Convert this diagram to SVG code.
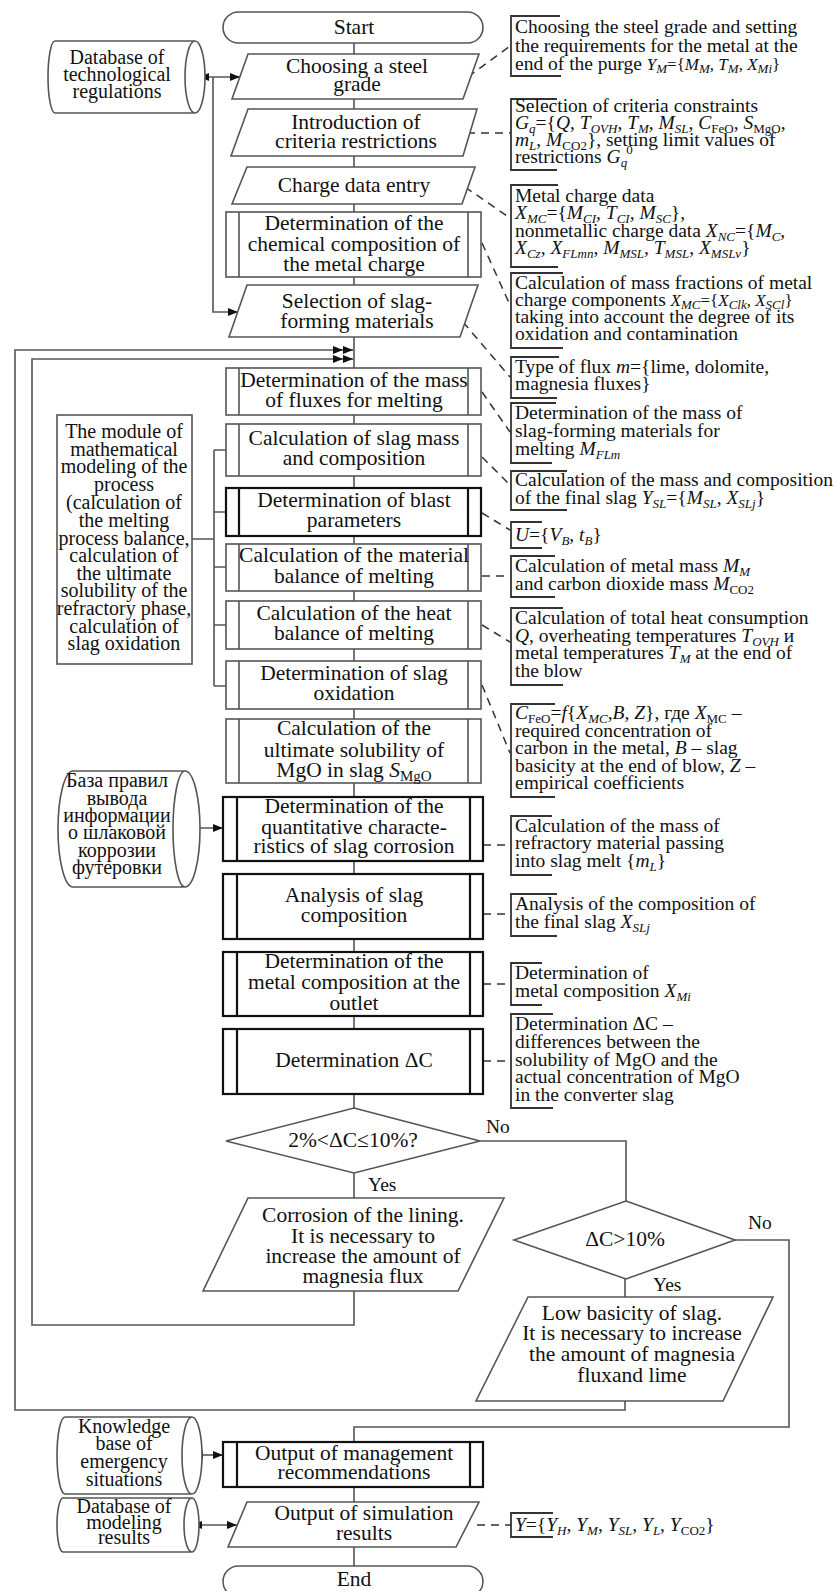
<svg xmlns="http://www.w3.org/2000/svg" width="837" height="1591" viewBox="0 0 837 1591">
<style>
.box{fill:#fff;stroke:#555;stroke-width:1.6}
.bold{fill:#fff;stroke:#111;stroke-width:2.2}
.ln{fill:none;stroke:#555;stroke-width:1.6}
.dash{fill:none;stroke:#333;stroke-width:1.5;stroke-dasharray:8 6}
.br{fill:none;stroke:#333;stroke-width:1.8}
.t{font-family:"Liberation Serif","Times New Roman",serif;font-size:21.5px;text-anchor:middle;fill:#111}
.c{font-family:"Liberation Serif","Times New Roman",serif;font-size:20px;text-anchor:middle;fill:#111}
.a{font-family:"Liberation Serif","Times New Roman",serif;font-size:19.5px;fill:#111}
.l{font-family:"Liberation Serif","Times New Roman",serif;font-size:19.5px;fill:#111}
.s{font-size:13px}
.i{font-style:italic}
</style>
<defs>
<marker id="ar" viewBox="0 0 10 8" refX="10" refY="4" markerWidth="10" markerHeight="8" orient="auto-start-reverse" markerUnits="userSpaceOnUse"><path d="M0,0 L10,4 L0,8 z" fill="#111"/></marker>
</defs>

<g id="connectors">
<path class="ln" d="M354,43V54 M354,99V109 M354,156V167 M354,204V212 M354,277V285 M354,337V368 M354,415V424 M354,476V488 M354,536V544 M354,591V601 M354,649V661 M354,709V719 M354,783V797 M354,861V874 M354,939V952 M354,1016V1029 M354,1094V1108 M354,1173V1198 M354,1487V1502 M354,1547V1566 M625,1279V1297"/>
<path class="ln" d="M480,1141H626V1201"/>
<path class="ln" d="M735,1240H789V1427H354V1442"/>
<path class="ln" d="M354,1291V1325H32V359H343" marker-end="url(#ar)"/>
<path class="ln" d="M625,1401V1410H15V350H343" marker-end="url(#ar)"/>
<line class="ln" x1="343" y1="359" x2="353" y2="359" marker-end="url(#ar)"/>
<line class="ln" x1="343" y1="350" x2="353" y2="350" marker-end="url(#ar)"/>
<line class="ln" x1="199" y1="77" x2="240" y2="77" stroke="#111" marker-start="url(#ar)" marker-end="url(#ar)"/>
<path class="ln" d="M213,77V312H238" stroke="#111" marker-end="url(#ar)"/>
<line class="ln" x1="188" y1="828" x2="223" y2="828" stroke="#111" marker-start="url(#ar)" marker-end="url(#ar)"/>
<line class="ln" x1="193" y1="1455" x2="223" y2="1455" stroke="#111" marker-start="url(#ar)" marker-end="url(#ar)"/>
<line class="ln" x1="192" y1="1525" x2="237" y2="1525" stroke="#111" marker-start="url(#ar)" marker-end="url(#ar)"/>
<path class="ln" d="M192,539H214 M214,450V686 M214,450H226 M214,512H226 M214,567H226 M214,625H226 M214,686H226"/>
<path class="dash" d="M468,77L510,46 M467,133H511 M465,187L510,218 M482,243L510,305 M463,322L510,377 M482,392L510,432 M482,457L510,485 M482,513L510,530 M482,576H511 M482,625L510,642 M482,685L510,753 M483,845H511 M483,914H511 M483,984H511 M483,1061H511 M477,1525H511"/>
</g>

<g id="start"><rect class="box" x="223" y="12" width="260" height="31" rx="15.5"/><text class="t" x="354" y="34">Start</text></g>
<g id="steel"><polygon class="box" points="248,54 479,54 463,99 232,99"/><text class="t" x="357" y="73">Choosing a steel</text><text class="t" x="357" y="91">grade</text></g>
<g id="criteria"><polygon class="box" points="248,109 477,109 463,156 231,156"/><text class="t" x="356" y="129">Introduction of</text><text class="t" x="356" y="148">criteria restrictions</text></g>
<g id="charge"><polygon class="box" points="247,167 475,167 462,204 232,204"/><text class="t" x="354" y="192">Charge data entry</text></g>
<g id="chem"><rect class="box" x="226" y="212" width="255" height="65"/><path class="box" d="M239,212V277 M468,212V277"/><text class="t" x="354" y="230">Determination of the</text><text class="t" x="354" y="251">chemical composition of</text><text class="t" x="354" y="271">the metal charge</text></g>
<g id="selection"><polygon class="box" points="247,285 478,285 460,337 229,337"/><text class="t" x="357" y="308">Selection of slag-</text><text class="t" x="357" y="328">forming materials</text></g>
<g id="fluxes"><rect class="box" x="226" y="368" width="255" height="47"/><path class="box" d="M239,368V415 M468,368V415"/><text class="t" x="354" y="387">Determination of the mass</text><text class="t" x="354" y="407">of fluxes for melting</text></g>
<g id="slagmass"><rect class="box" x="226" y="424" width="255" height="52"/><path class="box" d="M239,424V476 M468,424V476"/><text class="t" x="354" y="445">Calculation of slag mass</text><text class="t" x="354" y="465">and composition</text></g>
<g id="blast"><rect class="bold" x="226" y="488" width="255" height="48"/><path class="bold" d="M239,488V536 M468,488V536"/><text class="t" x="354" y="507">Determination of blast</text><text class="t" x="354" y="527">parameters</text></g>
<g id="material"><rect class="box" x="226" y="544" width="255" height="47"/><path class="box" d="M239,544V591 M468,544V591"/><text class="t" x="354" y="562">Calculation of the material</text><text class="t" x="354" y="583">balance of melting</text></g>
<g id="heat"><rect class="box" x="226" y="601" width="255" height="48"/><path class="box" d="M239,601V649 M468,601V649"/><text class="t" x="354" y="620">Calculation of the heat</text><text class="t" x="354" y="640">balance of melting</text></g>
<g id="oxidation"><rect class="box" x="226" y="661" width="255" height="48"/><path class="box" d="M239,661V709 M468,661V709"/><text class="t" x="354" y="680">Determination of slag</text><text class="t" x="354" y="700">oxidation</text></g>
<g id="mgo"><rect class="box" x="226" y="719" width="255" height="64"/><path class="box" d="M239,719V783 M468,719V783"/><text class="t" x="354" y="735">Calculation of the</text><text class="t" x="354" y="757">ultimate solubility of</text><text class="t" x="354" y="777">MgO in slag <tspan class="i">S</tspan><tspan font-size="15" dy="4">MgO</tspan></text></g>
<g id="quant"><rect class="bold" x="223" y="797" width="260" height="64"/><path class="bold" d="M237,797V861 M470,797V861"/><text class="t" x="354" y="813">Determination of the</text><text class="t" x="354" y="834">quantitative characte-</text><text class="t" x="354" y="853">ristics of slag corrosion</text></g>
<g id="analysis"><rect class="bold" x="223" y="874" width="260" height="65"/><path class="bold" d="M237,874V939 M470,874V939"/><text class="t" x="354" y="902">Analysis of slag</text><text class="t" x="354" y="922">composition</text></g>
<g id="metalcomp"><rect class="bold" x="223" y="952" width="260" height="64"/><path class="bold" d="M237,952V1016 M470,952V1016"/><text class="t" x="354" y="968">Determination of the</text><text class="t" x="354" y="989">metal composition at the</text><text class="t" x="354" y="1010">outlet</text></g>
<g id="deltac"><rect class="bold" x="223" y="1029" width="260" height="65"/><path class="bold" d="M237,1029V1094 M470,1029V1094"/><text class="t" x="354" y="1067">Determination ΔC</text></g>
<g id="dec1"><polygon class="box" stroke="#222" points="354,1108 480,1141 354,1173 226,1141"/><text class="t" font-size="19.5" x="353" y="1147">2%&lt;ΔC≤10%?</text></g>
<g id="corrosion"><polygon class="box" stroke="#222" points="248,1198 504,1198 458,1291 203,1291"/><text class="t" x="363" y="1222">Corrosion of the lining.</text><text class="t" x="363" y="1243">It is necessary to</text><text class="t" x="363" y="1263">increase the amount of</text><text class="t" x="363" y="1283">magnesia flux</text></g>
<g id="dec2"><polygon class="box" stroke="#222" points="626,1201 735,1240 626,1279 514,1240"/><text class="t" font-size="19.5" x="625" y="1246">ΔC&gt;10%</text></g>
<g id="lowbas"><polygon class="box" stroke="#222" points="528,1297 773,1297 723,1401 476,1401"/><text class="t" x="632" y="1320">Low basicity of slag.</text><text class="t" x="632" y="1340">It is necessary to increase</text><text class="t" x="632" y="1361">the amount of magnesia</text><text class="t" x="632" y="1382">fluxand lime</text></g>
<g id="mgmt"><rect class="bold" x="223" y="1442" width="260" height="45"/><path class="bold" d="M237,1442V1487 M470,1442V1487"/><text class="t" x="354" y="1460">Output of management</text><text class="t" x="354" y="1479">recommendations</text></g>
<g id="simout"><polygon class="box" stroke="#222" points="247,1502 479,1502 456,1547 228,1547"/><text class="t" x="364" y="1520">Output of simulation</text><text class="t" x="364" y="1540">results</text></g>
<g id="end"><rect class="box" x="223" y="1566" width="260" height="31" rx="15.5"/><text class="t" x="354" y="1586">End</text></g>

<g id="labels">
<text class="l" x="486" y="1133">No</text>
<text class="l" x="368" y="1191">Yes</text>
<text class="l" x="748" y="1229">No</text>
<text class="l" x="653" y="1291">Yes</text>
</g>

<g id="db-tech"><path class="box" d="M55,41H195A10,36 0 0 1 195,113H55A7,36 0 0 1 55,41Z M195,41A10,36 0 0 0 195,113"/><text class="c" x="117" y="64">Database of</text><text class="c" x="117" y="81">technological</text><text class="c" x="117" y="98">regulations</text></g>

<g id="module"><rect class="box" x="57" y="415" width="135" height="249"/>
<text class="c" x="124" y="438">The module of</text><text class="c" x="124" y="456">mathematical</text><text class="c" x="124" y="473">modeling of the</text><text class="c" x="124" y="491">process</text><text class="c" x="124" y="509">(calculation of</text><text class="c" x="124" y="527">the melting</text><text class="c" x="124" y="545">process balance,</text><text class="c" x="124" y="562">calculation of</text><text class="c" x="124" y="580">the ultimate</text><text class="c" x="124" y="597">solubility of the</text><text class="c" x="124" y="615">refractory phase,</text><text class="c" x="124" y="633">calculation of</text><text class="c" x="124" y="650">slag oxidation</text></g>

<g id="db-rules"><path class="box" d="M73,771H185A15,58 0 0 1 185,887H73A15,58 0 0 1 73,771Z M185,771A12,58 0 0 0 185,887"/><text class="c" x="117" y="787">База правил</text><text class="c" x="117" y="805">вывода</text><text class="c" x="117" y="822">информации</text><text class="c" x="117" y="839">о шлаковой</text><text class="c" x="117" y="857">коррозии</text><text class="c" x="117" y="874">футеровки</text></g>

<g id="kb-emerg"><path class="box" stroke="#222" d="M65,1417H192A10,38.5 0 0 1 192,1494H65A8,38.5 0 0 1 65,1417Z M192,1417A10,38.5 0 0 0 192,1494"/><text class="c" x="124" y="1433">Knowledge</text><text class="c" x="124" y="1450">base of</text><text class="c" x="124" y="1468">emergency</text><text class="c" x="124" y="1486">situations</text></g>

<g id="db-model"><path class="box" stroke="#222" d="M63,1498H192A7,27 0 0 1 192,1552H63A6,27 0 0 1 63,1498Z M192,1498A8,27 0 0 0 192,1552"/><text class="c" x="124" y="1513">Database of</text><text class="c" x="124" y="1529">modeling</text><text class="c" x="124" y="1544">results</text></g>

<g id="ann1"><path class="br" d="M560,16H511V76H561"/><text class="a" x="515" y="33">Choosing the steel grade and setting</text><text class="a" x="515" y="52">the requirements for the metal at the</text><text class="a" x="515" y="70">end of the purge <tspan class="i" font-size="17">Y</tspan><tspan class="i s" dy="3">M</tspan><tspan font-size="17" dy="-3">={</tspan><tspan class="i" font-size="17">M</tspan><tspan class="i s" dy="3">M</tspan><tspan font-size="17" dy="-3">, </tspan><tspan class="i" font-size="17">T</tspan><tspan class="i s" dy="3">M</tspan><tspan font-size="17" dy="-3">, </tspan><tspan class="i" font-size="17">X</tspan><tspan class="i s" dy="3">Mi</tspan><tspan font-size="17" dy="-3">}</tspan></text></g>

<g id="ann2"><path class="br" d="M557,99H511V170H557"/><text class="a" x="515" y="112">Selection of criteria constraints</text><text class="a" x="515" y="129"><tspan class="i">G</tspan><tspan class="i s" dy="4">q</tspan><tspan dy="-4">={</tspan><tspan class="i">Q</tspan>, <tspan class="i">T</tspan><tspan class="i s" dy="4">OVH</tspan><tspan dy="-4">, </tspan><tspan class="i">T</tspan><tspan class="i s" dy="4">M</tspan><tspan dy="-4">, </tspan><tspan class="i">M</tspan><tspan class="i s" dy="4">SL</tspan><tspan dy="-4">, </tspan><tspan class="i">C</tspan><tspan class="s" dy="4">FeO</tspan><tspan dy="-4">, </tspan><tspan class="i">S</tspan><tspan class="s" dy="4">MgO</tspan><tspan dy="-4">,</tspan></text><text class="a" x="515" y="146"><tspan class="i">m</tspan><tspan class="i s" dy="4">L</tspan><tspan dy="-4">, </tspan><tspan class="i">M</tspan><tspan class="s" dy="4">CO2</tspan><tspan dy="-4">}, setting limit values of</tspan></text><text class="a" x="515" y="163">restrictions <tspan class="i">G</tspan><tspan class="i s" dy="4">q</tspan><tspan class="s" dx="-1" dy="-13">0</tspan></text></g>

<g id="ann3"><path class="br" d="M558,185H511V267H558"/><text class="a" x="515" y="202">Metal charge data</text><text class="a" x="515" y="219"><tspan class="i">X</tspan><tspan class="i s" dy="4">MC</tspan><tspan dy="-4">={</tspan><tspan class="i">M</tspan><tspan class="i s" dy="4">CI</tspan><tspan dy="-4">, </tspan><tspan class="i">T</tspan><tspan class="i s" dy="4">CI</tspan><tspan dy="-4">, </tspan><tspan class="i">M</tspan><tspan class="i s" dy="4">SC</tspan><tspan dy="-4">},</tspan></text><text class="a" x="515" y="237">nonmetallic charge data <tspan class="i">X</tspan><tspan class="i s" dy="4">NC</tspan><tspan dy="-4">={</tspan><tspan class="i">M</tspan><tspan class="i s" dy="4">C</tspan><tspan dy="-4">,</tspan></text><text class="a" x="515" y="254"><tspan class="i">X</tspan><tspan class="i s" dy="4">Cz</tspan><tspan dy="-4">, </tspan><tspan class="i">X</tspan><tspan class="i s" dy="4">FLmn</tspan><tspan dy="-4">, </tspan><tspan class="i">M</tspan><tspan class="i s" dy="4">MSL</tspan><tspan dy="-4">, </tspan><tspan class="i">T</tspan><tspan class="i s" dy="4">MSL</tspan><tspan dy="-4">, </tspan><tspan class="i">X</tspan><tspan class="i s" dy="4">MSLv</tspan><tspan dy="-4">}</tspan></text></g>

<g id="ann4"><path class="br" d="M563,273H511V348H563"/><text class="a" x="515" y="289">Calculation of mass fractions of metal</text><text class="a" x="515" y="306">charge components <tspan class="i" font-size="17">X</tspan><tspan class="i s" font-size="11" dy="3">MC</tspan><tspan font-size="17" dy="-3">={</tspan><tspan class="i" font-size="17">X</tspan><tspan class="i s" font-size="11" dy="3">Clk</tspan><tspan font-size="17" dy="-3">, </tspan><tspan class="i" font-size="17">X</tspan><tspan class="i s" font-size="11" dy="3">SCl</tspan><tspan font-size="17" dy="-3">}</tspan></text><text class="a" x="515" y="323">taking into account the degree of its</text><text class="a" x="515" y="340">oxidation and contamination</text></g>

<g id="ann5"><path class="br" d="M559,357H511V398H557"/><text class="a" x="515" y="373">Type of flux <tspan class="i">m</tspan>={lime, dolomite,</text><text class="a" x="515" y="390">magnesia fluxes}</text></g>

<g id="ann6"><path class="br" d="M556,403H511V463H552"/><text class="a" x="515" y="419">Determination of the mass of</text><text class="a" x="515" y="437">slag-forming materials for</text><text class="a" x="515" y="455">melting <tspan class="i">M</tspan><tspan class="i s" dy="4">FLm</tspan></text></g>

<g id="ann7"><path class="br" d="M567,471H511V510H567"/><text class="a" x="515" y="486">Calculation of the mass and composition</text><text class="a" x="515" y="504">of the final slag <tspan class="i">Y</tspan><tspan class="i s" dy="4">SL</tspan><tspan dy="-4">={</tspan><tspan class="i">M</tspan><tspan class="i s" dy="4">SL</tspan><tspan dy="-4">, </tspan><tspan class="i">X</tspan><tspan class="i s" dy="4">SLj</tspan><tspan dy="-4">}</tspan></text></g>

<g id="ann8"><path class="br" d="M542,522H511V548H542"/><text class="a" x="515" y="541"><tspan class="i">U</tspan>={<tspan class="i">V</tspan><tspan class="i s" dy="4">B</tspan><tspan dy="-4">, </tspan><tspan class="i">t</tspan><tspan class="i s" dy="4">B</tspan><tspan dy="-4">}</tspan></text></g>

<g id="ann9"><path class="br" d="M555,556H511V597H555"/><text class="a" x="515" y="572">Calculation of metal mass <tspan class="i">M</tspan><tspan class="i s" dy="4">M</tspan></text><text class="a" x="515" y="590">and carbon dioxide mass <tspan class="i">M</tspan><tspan class="s" dy="4">CO2</tspan></text></g>

<g id="ann10"><path class="br" d="M563,608H511V685H563"/><text class="a" x="515" y="624">Calculation of total heat consumption</text><text class="a" x="515" y="642"><tspan class="i">Q</tspan>, overheating temperatures <tspan class="i">T</tspan><tspan class="i s" dy="4">OVH</tspan><tspan dy="-4"> и</tspan></text><text class="a" x="515" y="659">metal temperatures <tspan class="i">T</tspan><tspan class="i s" dy="4">M</tspan><tspan dy="-4"> at the end of</tspan></text><text class="a" x="515" y="677">the blow</text></g>

<g id="ann11"><path class="br" d="M555,704H511V797H555"/><text class="a" x="515" y="719"><tspan class="i">C</tspan><tspan class="s" dy="4">FeO</tspan><tspan dy="-4">=</tspan><tspan class="i">f</tspan>{<tspan class="i">X</tspan><tspan class="i s" dy="4">MC</tspan><tspan dy="-4">,</tspan><tspan class="i">B</tspan>, <tspan class="i">Z</tspan>}, где <tspan class="i">X</tspan><tspan class="s" dy="4">MC</tspan><tspan dy="-4"> –</tspan></text><text class="a" x="515" y="737">required concentration of</text><text class="a" x="515" y="754">carbon in the metal, <tspan class="i">B</tspan> – slag</text><text class="a" x="515" y="772">basicity at the end of blow, <tspan class="i">Z</tspan> –</text><text class="a" x="515" y="789">empirical coefficients</text></g>

<g id="ann12"><path class="br" d="M552,816H511V875H552"/><text class="a" x="515" y="832">Calculation of the mass of</text><text class="a" x="515" y="849">refractory material passing</text><text class="a" x="515" y="867">into slag melt {<tspan class="i">m</tspan><tspan class="i s" dy="4">L</tspan><tspan dy="-4">}</tspan></text></g>

<g id="ann13"><path class="br" d="M557,894H511V936H557"/><text class="a" x="515" y="910">Analysis of the composition of</text><text class="a" x="515" y="928">the final slag <tspan class="i">X</tspan><tspan class="i s" dy="4">SLj</tspan></text></g>

<g id="ann14"><path class="br" d="M542,963H511V1005H542"/><text class="a" x="515" y="979">Determination of</text><text class="a" x="515" y="997">metal composition <tspan class="i">X</tspan><tspan class="i s" dy="4">Mi</tspan></text></g>

<g id="ann15"><path class="br" d="M553,1014H511V1108H553"/><text class="a" x="515" y="1030">Determination ΔC –</text><text class="a" x="515" y="1048">differences between the</text><text class="a" x="515" y="1066">solubility of MgO and the</text><text class="a" x="515" y="1083">actual concentration of MgO</text><text class="a" x="515" y="1101">in the converter slag</text></g>

<g id="ann16"><path class="br" d="M553,1513H511V1537H553"/><text class="a" x="515" y="1531"><tspan class="i">Y</tspan>={<tspan class="i">Y</tspan><tspan class="i s" dy="4">H</tspan><tspan dy="-4">, </tspan><tspan class="i">Y</tspan><tspan class="i s" dy="4">M</tspan><tspan dy="-4">, </tspan><tspan class="i">Y</tspan><tspan class="i s" dy="4">SL</tspan><tspan dy="-4">, </tspan><tspan class="i">Y</tspan><tspan class="i s" dy="4">L</tspan><tspan dy="-4">, </tspan><tspan class="i">Y</tspan><tspan class="s" dy="4">CO2</tspan><tspan dy="-4">}</tspan></text></g>
</svg>
